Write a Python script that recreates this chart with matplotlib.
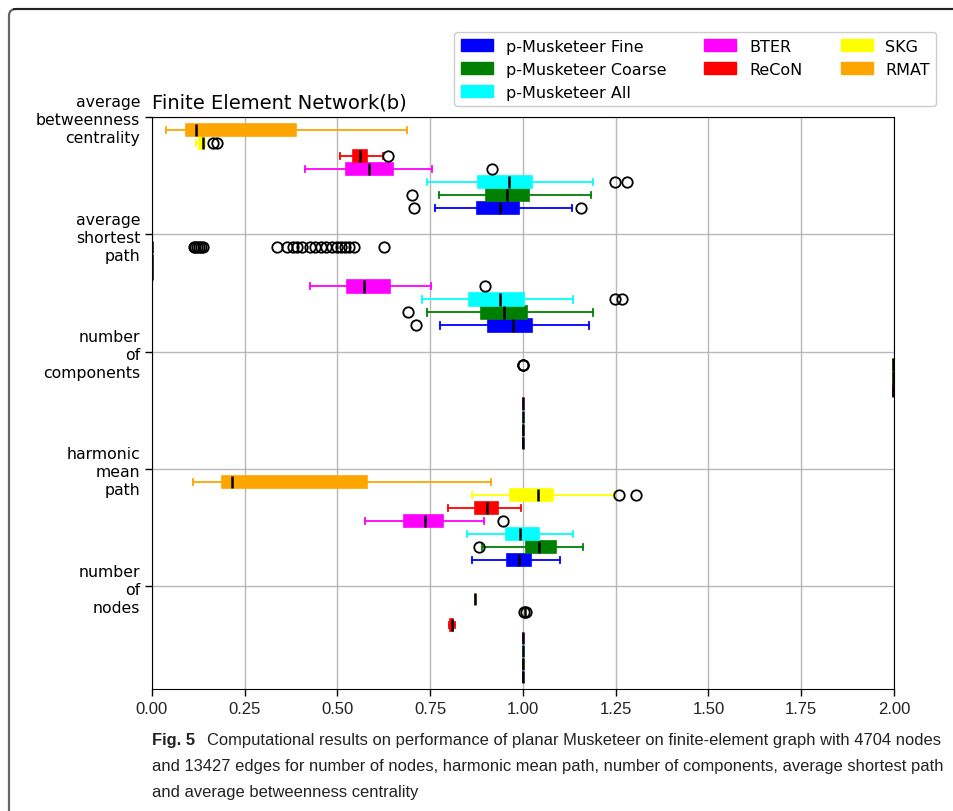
import matplotlib
matplotlib.use("Agg")
import matplotlib.pyplot as plt
from matplotlib import font_manager
from matplotlib.patches import Patch, FancyBboxPatch
from matplotlib.lines import Line2D

# metodos (de baixo para cima dentro de cada grupo) e cores
metodos = ["p-Musketeer Fine", "p-Musketeer Coarse", "p-Musketeer All", "BTER", "ReCoN", "SKG", "RMAT"]
cores = ["blue", "green", "cyan", "magenta", "red", "yellow", "orange"]

# metricas (de baixo para cima)
metricas = ["number\nof\nnodes", "harmonic\nmean\npath", "number\nof\ncomponents",
            "average\nshortest\npath", "average\nbetweenness\ncentrality"]

# (whislo, q1, med, q3, whishi) por metodo, na ordem de 'metodos'
nos_caixas = [(1.0, 1.0, 1.0, 1.0, 1.0), (1.0, 1.0, 1.0, 1.0, 1.0), (1.0, 1.0, 1.0, 1.0, 1.0),
              (1.0, 1.0, 1.0, 1.0, 1.0), (0.800, 0.804, 0.808, 0.812, 0.816),
              (1.006, 1.006, 1.006, 1.006, 1.006), (0.871, 0.871, 0.871, 0.871, 0.871)]
nos_outliers = [[], [], [], [], [], [1.004, 1.008], []]

harmonico_caixas = [(0.863, 0.956, 0.989, 1.022, 1.100), (0.890, 1.007, 1.043, 1.089, 1.162),
                    (0.849, 0.954, 0.992, 1.043, 1.135), (0.574, 0.680, 0.736, 0.785, 0.895),
                    (0.798, 0.871, 0.903, 0.933, 0.995), (0.863, 0.965, 1.040, 1.081, 1.245),
                    (0.110, 0.190, 0.216, 0.579, 0.914)]
harmonico_outliers = [[], [0.881], [], [0.947], [], [1.258, 1.305], []]

componentes_caixas = [(1.0, 1.0, 1.0, 1.0, 1.0), (1.0, 1.0, 1.0, 1.0, 1.0), (1.0, 1.0, 1.0, 1.0, 1.0),
                      (1.0, 1.0, 1.0, 1.0, 1.0), (1.998, 1.998, 1.998, 1.998, 1.998),
                      (1.998, 1.998, 1.998, 1.998, 1.998), (1.998, 1.998, 1.998, 1.998, 1.998)]
componentes_outliers = [[], [], [], [], [], [], [1.0, 1.0, 1.0]]

caminho_caixas = [(0.776, 0.906, 0.972, 1.024, 1.178), (0.742, 0.886, 0.949, 1.011, 1.189),
                  (0.727, 0.854, 0.938, 1.003, 1.135), (0.426, 0.526, 0.571, 0.642, 0.752),
                  (0.0, 0.0, 0.0, 0.0, 0.0), (0.0, 0.0, 0.0, 0.0, 0.0), (0.0, 0.0, 0.0, 0.0, 0.0)]
caminho_outliers = [[0.712], [0.690], [1.248, 1.267], [0.898], [], [],
                    [0.112, 0.117, 0.122, 0.127, 0.133, 0.138,
                     0.337, 0.365, 0.380, 0.390, 0.405, 0.425, 0.440, 0.455, 0.470,
                     0.485, 0.500, 0.510, 0.520, 0.530, 0.545, 0.625]]

intermediacao_caixas = [(0.763, 0.876, 0.938, 0.989, 1.132), (0.773, 0.900, 0.957, 1.016, 1.183),
                        (0.742, 0.879, 0.962, 1.024, 1.189), (0.412, 0.523, 0.584, 0.649, 0.755),
                        (0.507, 0.541, 0.561, 0.579, 0.623), (0.118, 0.128, 0.137, 0.140, 0.143),
                        (0.037, 0.092, 0.119, 0.388, 0.687)]
intermediacao_outliers = [[0.707, 1.156], [0.700], [1.248, 1.280], [0.916], [0.637], [0.165, 0.175], []]

grupos_caixas = [nos_caixas, harmonico_caixas, componentes_caixas, caminho_caixas, intermediacao_caixas]
grupos_outliers = [nos_outliers, harmonico_outliers, componentes_outliers, caminho_outliers, intermediacao_outliers]

x_ticks = [0.0, 0.25, 0.5, 0.75, 1.0, 1.25, 1.5, 1.75, 2.0]

legenda = "Computational results on performance of planar Musketeer on finite-element graph with 4704 nodes"
legenda2 = "and 13427 edges for number of nodes, harmonic mean path, number of components, average shortest path"
legenda3 = "and average betweenness centrality"


def FonteEstreita():
    nomes = {f.name for f in font_manager.fontManager.ttflist}
    for nome in ["Liberation Sans Narrow", "DejaVu Sans Condensed", "Liberation Sans"]:
        if nome in nomes:
            return nome
    return "DejaVu Sans"


def main():
    estreita = FonteEstreita()
    fig = plt.figure(figsize=(9.54, 8.12), dpi=100)
    ax = fig.add_axes([0.1593, 0.1502, 0.7778, 0.7045])

    for k, (nome, cor) in enumerate(zip(metodos, cores)):
        stats = []
        posicoes = []
        for g in range(len(metricas)):
            lo, q1, med, q3, hi = grupos_caixas[g][k]
            stats.append({"whislo": lo, "q1": q1, "med": med, "q3": q3, "whishi": hi,
                          "fliers": grupos_outliers[g][k]})
            posicoes.append(9 * g + 1 + k)
        ax.bxp(stats, positions=posicoes, widths=0.95, orientation="horizontal", patch_artist=True,
               boxprops=dict(facecolor=cor, edgecolor=cor, linewidth=1.2),
               whiskerprops=dict(color=cor, linewidth=1.3),
               capprops=dict(color=cor, linewidth=1.3),
               medianprops=dict(color="black", linewidth=1.8),
               flierprops=dict(marker="o", markerfacecolor="none", markeredgecolor="black",
                               markersize=7.5, markeredgewidth=1.3))

    ax.set_xlim(0, 2)
    ax.set_ylim(0.1, 44)
    ax.set_xticks(x_ticks)
    ax.set_xticklabels([f"{v:.2f}" for v in x_ticks], fontsize=12, family=estreita, color="#222222")
    ax.set_yticks([9 * g + 8 for g in range(len(metricas))])
    ax.set_yticklabels(metricas, fontsize=11.3, linespacing=1.25)
    ax.tick_params(axis="both", length=5, width=1)
    ax.grid(True, color="#b8b8b8", linewidth=1.0)
    ax.set_axisbelow(True)
    ax.set_title("Finite Element Network(b)", loc="left", fontsize=14, pad=7)

    handles = [Patch(facecolor=c, edgecolor=c, label=m) for m, c in zip(metodos, cores)]
    fig.legend(handles=handles, loc="upper right", bbox_to_anchor=(0.990, 0.969), ncol=3,
               fontsize=11.5, columnspacing=2.4, framealpha=1.0)

    # moldura da pagina
    moldura = FancyBboxPatch((9 / 954, -0.1), 1.2, 1.1 - 10 / 812,
                             boxstyle="round,pad=0,rounding_size=0.008",
                             transform=fig.transFigure, facecolor="none", edgecolor="#666666",
                             linewidth=1.6, clip_on=False)
    fig.patches.append(moldura)
    fig.add_artist(Line2D([14 / 954, 1.0], [1 - 10 / 812, 1 - 10 / 812], color="#222222",
                          linewidth=1.4, transform=fig.transFigure))

    # legenda da figura, ajustada a largura da linha mais longa
    t0 = fig.text(152 / 954, 1 - 741 / 812, "Fig. 5", fontsize=12, fontweight="bold",
                  family=estreita, va="center", color="#222222")
    t1 = fig.text(228 / 954, 1 - 741 / 812, legenda, fontsize=12, family=estreita, va="center", color="#222222")
    t2 = fig.text(152 / 954, 1 - 767 / 812, legenda2, fontsize=12, family=estreita, va="center", color="#222222")
    t3 = fig.text(152 / 954, 1 - 793 / 812, legenda3, fontsize=12, family=estreita, va="center", color="#222222")
    renderer = fig.canvas.get_renderer()
    largura = t2.get_window_extent(renderer).width
    tamanho = 12 * (941 - 152) / largura
    for t in (t0, t1, t2, t3):
        t.set_fontsize(tamanho)
    largura1 = t1.get_window_extent(renderer).width
    t1.set_x((941 - largura1) / 954)

    fig.savefig("out.png", dpi=100)
    return 0


if __name__ == "__main__":
    SystemExit(main())
